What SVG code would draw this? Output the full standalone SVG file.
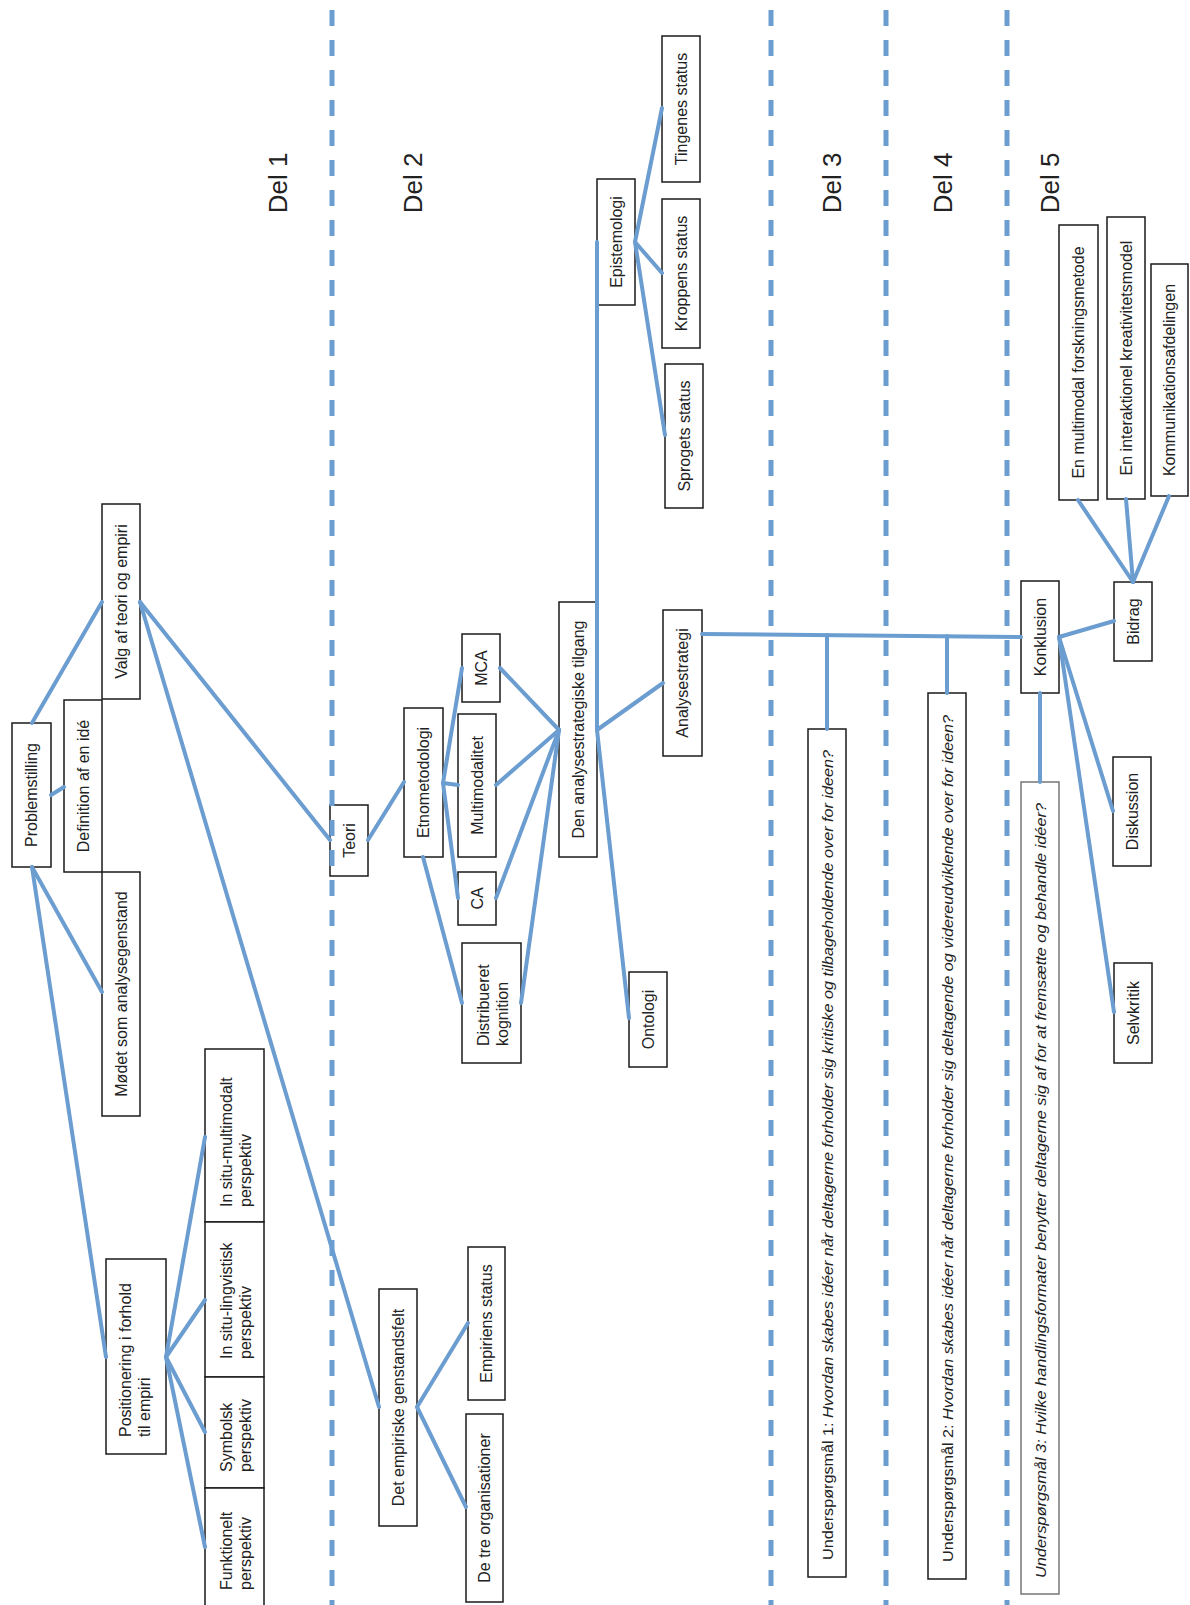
<svg xmlns="http://www.w3.org/2000/svg" width="1190" height="1605" viewBox="0 0 1190 1605">
<style>
.box{fill:#fff;stroke:#1a1a1a;stroke-width:1.5}
.t{font-family:"Liberation Sans",Arial,sans-serif;font-size:16px;fill:#222}
.c{text-anchor:middle}
.del{font-family:"Liberation Sans",Arial,sans-serif;font-size:26px;fill:#222;text-anchor:middle}
.q{font-family:"Liberation Sans",Arial,sans-serif;font-size:15px;fill:#222}
.i{font-style:italic}
.ln{stroke:#6b9dd0;stroke-width:4;fill:none;stroke-linecap:round}
.dash{stroke:#6b9dd0;stroke-width:5;stroke-dasharray:16 14;fill:none}
</style>
<rect width="1190" height="1605" fill="#fff"/>

<g id="nodes">
<g id="problemstilling"><rect class="box" x="12" y="723" width="39" height="144"/><text class="t c" transform="translate(31.5,795) rotate(-90)" dy="0.35em">Problemstilling</text></g>
<g id="definition"><rect class="box" x="64" y="700" width="38" height="172"/><text class="t c" transform="translate(83,786) rotate(-90)" dy="0.35em">Definition af en idé</text></g>
<g id="valg"><rect class="box" x="102" y="504" width="38" height="195"/><text class="t c" transform="translate(121,601.5) rotate(-90)" dy="0.35em">Valg af teori og empiri</text></g>
<g id="modet"><rect class="box" x="102" y="872" width="38" height="244"/><text class="t c" transform="translate(121,994) rotate(-90)" dy="0.35em">Mødet som analysegenstand</text></g>
<g id="positionering"><rect class="box" x="106" y="1259" width="60" height="195"/><text class="t" transform="translate(106,1437) rotate(-90)"><tspan x="0" y="25">Positionering i forhold</tspan><tspan x="0" y="44">til empiri</tspan></text></g>
<g id="multimodalt"><rect class="box" x="205" y="1049" width="59" height="173"/><text class="t" transform="translate(205,1207) rotate(-90)"><tspan x="0" y="27">In situ-multimodalt</tspan><tspan x="0" y="46">perspektiv</tspan></text></g>
<g id="lingvistisk"><rect class="box" x="205" y="1222" width="59" height="155"/><text class="t" transform="translate(205,1359) rotate(-90)"><tspan x="0" y="27">In situ-lingvistisk</tspan><tspan x="0" y="46">perspektiv</tspan></text></g>
<g id="symbolsk"><rect class="box" x="205" y="1377" width="59" height="111"/><text class="t" transform="translate(205,1472) rotate(-90)"><tspan x="0" y="27">Symbolsk</tspan><tspan x="0" y="46">perspektiv</tspan></text></g>
<g id="funktionelt"><rect class="box" x="205" y="1488" width="59" height="130"/><text class="t" transform="translate(205,1590) rotate(-90)"><tspan x="0" y="27">Funktionelt</tspan><tspan x="0" y="46">perspektiv</tspan></text></g>
<g id="teori"><rect class="box" x="330" y="805" width="38" height="71"/><text class="t c" transform="translate(349,840.5) rotate(-90)" dy="0.35em">Teori</text></g>
<g id="empiriske"><rect class="box" x="379" y="1289" width="38" height="237"/><text class="t c" transform="translate(398,1407.5) rotate(-90)" dy="0.35em">Det empiriske genstandsfelt</text></g>
<g id="empiriens"><rect class="box" x="468" y="1247" width="37" height="153"/><text class="t c" transform="translate(486.5,1323.5) rotate(-90)" dy="0.35em">Empiriens status</text></g>
<g id="detre"><rect class="box" x="466" y="1414" width="37" height="188"/><text class="t c" transform="translate(484.5,1508) rotate(-90)" dy="0.35em">De tre organisationer</text></g>
<g id="etnometodologi"><rect class="box" x="404" y="708" width="39" height="149"/><text class="t c" transform="translate(423.5,782.5) rotate(-90)" dy="0.35em">Etnometodologi</text></g>
<g id="mca"><rect class="box" x="462" y="634" width="38" height="68"/><text class="t c" transform="translate(481,668) rotate(-90)" dy="0.35em">MCA</text></g>
<g id="multimodalitet"><rect class="box" x="458" y="714" width="38" height="143"/><text class="t c" transform="translate(477,785.5) rotate(-90)" dy="0.35em">Multimodalitet</text></g>
<g id="ca"><rect class="box" x="458" y="872" width="38" height="53"/><text class="t c" transform="translate(477,898.5) rotate(-90)" dy="0.35em">CA</text></g>
<g id="distribueret"><rect class="box" x="462" y="943" width="59" height="120"/><text class="t" transform="translate(462,1046) rotate(-90)"><tspan x="0" y="27">Distribueret</tspan><tspan x="0" y="46">kognition</tspan></text></g>
<g id="analysetilgang"><rect class="box" x="559" y="602" width="38" height="255"/><text class="t c" transform="translate(578,729.5) rotate(-90)" dy="0.35em">Den analysestrategiske tilgang</text></g>
<g id="ontologi"><rect class="box" x="629" y="972" width="38" height="95"/><text class="t c" transform="translate(648,1019.5) rotate(-90)" dy="0.35em">Ontologi</text></g>
<g id="analysestrategi"><rect class="box" x="663" y="610" width="39" height="146"/><text class="t c" transform="translate(682.5,683) rotate(-90)" dy="0.35em">Analysestrategi</text></g>
<g id="epistemologi"><rect class="box" x="597" y="179" width="38" height="126"/><text class="t c" transform="translate(616,242) rotate(-90)" dy="0.35em">Epistemologi</text></g>
<g id="tingenes"><rect class="box" x="662" y="36" width="38" height="146"/><text class="t c" transform="translate(681,109) rotate(-90)" dy="0.35em">Tingenes status</text></g>
<g id="kroppens"><rect class="box" x="662" y="199" width="38" height="149"/><text class="t c" transform="translate(681,273.5) rotate(-90)" dy="0.35em">Kroppens status</text></g>
<g id="sprogets"><rect class="box" x="665" y="364" width="38" height="144"/><text class="t c" transform="translate(684,436) rotate(-90)" dy="0.35em">Sprogets status</text></g>
<g id="u1"><rect class="box" x="808" y="729" width="38" height="848"/><text class="q" transform="translate(828,1560) rotate(-90)" dy="0.35em" textLength="810" lengthAdjust="spacingAndGlyphs">Underspørgsmål 1: <tspan class="i">Hvordan skabes idéer når deltagerne forholder sig kritiske og tilbageholdende over for ideen?</tspan></text></g>
<g id="u2"><rect class="box" x="928" y="693" width="38" height="886"/><text class="q" transform="translate(948,1562) rotate(-90)" dy="0.35em" textLength="847" lengthAdjust="spacingAndGlyphs">Underspørgsmål 2: <tspan class="i">Hvordan skabes idéer når deltagerne forholder sig deltagende og videreudviklende over for ideen?</tspan></text></g>
<g id="u3"><rect class="box" x="1021" y="782" width="38" height="812" style="stroke:#777"/><text class="q i" transform="translate(1041,1578) rotate(-90)" dy="0.35em" textLength="775" lengthAdjust="spacingAndGlyphs">Underspørgsmål 3: Hvilke handlingsformater benytter deltagerne sig af for at fremsætte og behandle idéer?</text></g>
<g id="konklusion"><rect class="box" x="1021" y="581" width="38" height="112"/><text class="t c" transform="translate(1040,637) rotate(-90)" dy="0.35em">Konklusion</text></g>
<g id="bidrag"><rect class="box" x="1114" y="582" width="38" height="79"/><text class="t c" transform="translate(1133,621.5) rotate(-90)" dy="0.35em">Bidrag</text></g>
<g id="diskussion"><rect class="box" x="1113" y="757" width="38" height="109"/><text class="t c" transform="translate(1132,811.5) rotate(-90)" dy="0.35em">Diskussion</text></g>
<g id="selvkritik"><rect class="box" x="1114" y="963" width="38" height="100"/><text class="t c" transform="translate(1133,1013) rotate(-90)" dy="0.35em">Selvkritik</text></g>
<g id="forskningsmetode"><rect class="box" x="1059" y="225" width="39" height="275"/><text class="t c" transform="translate(1078.5,362.5) rotate(-90)" dy="0.35em">En multimodal forskningsmetode</text></g>
<g id="kreativitetsmodel"><rect class="box" x="1107" y="217" width="38" height="282"/><text class="t c" transform="translate(1126,358) rotate(-90)" dy="0.35em">En interaktionel kreativitetsmodel</text></g>
<g id="kommunikation"><rect class="box" x="1151" y="264" width="37" height="232"/><text class="t c" transform="translate(1169.5,380) rotate(-90)" dy="0.35em">Kommunikationsafdelingen</text></g>
</g>

<g id="connectors" class="ln">
<line x1="32" y1="723" x2="102" y2="602"/>
<line x1="51" y1="795" x2="64" y2="787"/>
<line x1="32" y1="867" x2="102" y2="992"/>
<line x1="32" y1="867" x2="106" y2="1357"/>
<line x1="140" y1="602" x2="330" y2="840"/>
<line x1="140" y1="602" x2="379" y2="1407"/>
<line x1="166" y1="1357" x2="205" y2="1137"/>
<line x1="166" y1="1357" x2="205" y2="1300"/>
<line x1="166" y1="1357" x2="205" y2="1432"/>
<line x1="166" y1="1357" x2="205" y2="1547"/>
<line x1="417" y1="1407" x2="468" y2="1323"/>
<line x1="417" y1="1407" x2="466" y2="1507"/>
<line x1="368" y1="840" x2="404" y2="782"/>
<line x1="443" y1="783" x2="462" y2="668"/>
<line x1="443" y1="783" x2="458" y2="785"/>
<line x1="443" y1="783" x2="458" y2="898"/>
<line x1="423" y1="857" x2="462" y2="1003"/>
<line x1="500" y1="668" x2="559" y2="730"/>
<line x1="496" y1="785" x2="559" y2="730"/>
<line x1="496" y1="898" x2="559" y2="730"/>
<line x1="521" y1="1003" x2="559" y2="730"/>
<line x1="597" y1="730" x2="663" y2="683"/>
<line x1="597" y1="730" x2="629" y2="1018"/>
<line x1="597" y1="730" x2="597" y2="242"/>
<line x1="635" y1="242" x2="662" y2="108"/>
<line x1="635" y1="242" x2="662" y2="273"/>
<line x1="635" y1="242" x2="665" y2="435"/>
<line x1="702" y1="634" x2="1021" y2="637"/>
<line x1="827" y1="635" x2="827" y2="729"/>
<line x1="947" y1="636" x2="947" y2="693"/>
<line x1="1040" y1="693" x2="1040" y2="782"/>
<line x1="1059" y1="637" x2="1114" y2="621"/>
<line x1="1059" y1="637" x2="1113" y2="811"/>
<line x1="1059" y1="637" x2="1114" y2="1012"/>
<line x1="1133" y1="582" x2="1078" y2="500"/>
<line x1="1133" y1="582" x2="1126" y2="499"/>
<line x1="1133" y1="582" x2="1169" y2="496"/>
</g>

<g id="dividers" class="dash">
<line x1="332" y1="10" x2="332" y2="1605"/>
<line x1="771" y1="10" x2="771" y2="1605"/>
<line x1="886" y1="10" x2="886" y2="1605"/>
<line x1="1007" y1="10" x2="1007" y2="1605"/>
</g>

<g id="labels">
<text class="del" transform="translate(278,183) rotate(-90)" dy="0.35em">Del 1</text>
<text class="del" transform="translate(413,183) rotate(-90)" dy="0.35em">Del 2</text>
<text class="del" transform="translate(832,183) rotate(-90)" dy="0.35em">Del 3</text>
<text class="del" transform="translate(943,183) rotate(-90)" dy="0.35em">Del 4</text>
<text class="del" transform="translate(1050,183) rotate(-90)" dy="0.35em">Del 5</text>
</g>
</svg>
